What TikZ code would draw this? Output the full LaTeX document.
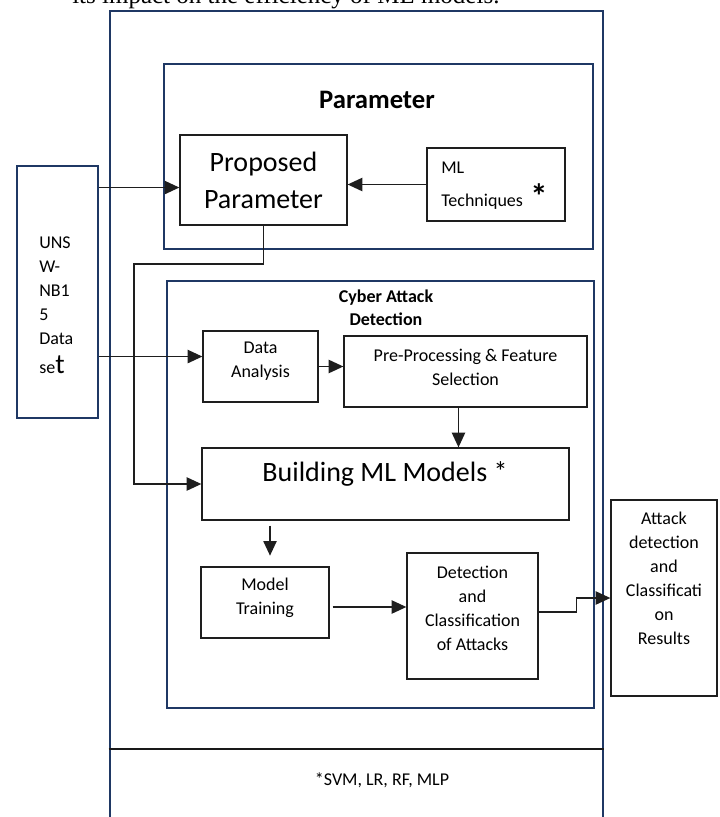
\documentclass[tikz,border=0pt]{standalone}
\usepackage{fontspec}
\setmainfont{Carlito}
\newfontfamily\timesfont{Liberation Serif}
\usetikzlibrary{arrows.meta,fit,calc}
\definecolor{navy}{RGB}{31,56,100}
\definecolor{ink}{RGB}{30,30,30}
\begin{document}
\begin{tikzpicture}[x=0.75pt,y=-0.75pt,
  frame/.style={draw=navy,line width=2.2pt,inner sep=0pt},
  box/.style={draw=ink,line width=1pt,inner sep=0pt},
  txt/.style={font=\fontsize{13.5}{18}\selectfont,align=center,inner sep=0pt},
  bigtxt/.style={font=\fontsize{21}{27.75}\selectfont,align=center,inner sep=0pt},
  arr/.style={draw=ink,line width=1pt,-{Triangle[length=11pt,width=10pt]}},
  link/.style={draw=ink,line width=1pt}]
\clip (0,0) rectangle (720,817);

% running text of the page above the figure
\node[anchor=base west,inner sep=0pt,font=\timesfont\fontsize{18.75}{22}\selectfont] (intro) at (72,4)
  {its impact on the efficiency of ML models.};

% outer frame and footnote band
\node[frame,fit={(110,11) (603,840)}] (outer) {};
\draw[draw=black!90,line width=1.1pt] (outer.west |- 0,749) -- (outer.east |- 0,749);
\node[txt] (footnote) at (382,780) {*SVM, LR, RF, MLP};

% parameter block
\node[frame,fit={(164,64) (593,249)}] (param) {};
\node[font=\bfseries\fontsize{20}{24}\selectfont,inner sep=0pt] (paramtitle) at (377,100) {Parameter};
\node[box,fit={(180,135) (347,225)}] (proposed) {};
\node[bigtxt] (proposedtxt) at (proposed.center) {Proposed\\Parameter};
\node[box,fit={(427,148) (565,221)}] (ml) {};
\node[txt,align=left,anchor=west,font=\fontsize{13.5}{24.75}\selectfont] (mltxt) at (441,185.5) {ML\\Techniques};
\node[font=\bfseries\fontsize{26}{24}\selectfont,inner sep=0pt] (mlstar) at (539,196) {*};

% dataset
\node[frame,fit={(17,166) (98,418)}] (data) {};
\node[txt,align=left,anchor=west] (datatxt) at (39,305)
  {UNS\\W-\\NB1\\5\\Data\\[4pt]se{\fontsize{21}{18}\selectfont t}};

% cyber attack detection block
\node[frame,fit={(167,281) (594,708)}] (cyber) {};
\node[txt,font=\bfseries\fontsize{13.5}{17.25}\selectfont] (cybertitle) at (386,307.5) {Cyber Attack\\Detection};
\node[box,fit={(203,331) (318,402)}] (analysis) {};
\node[txt] (analysistxt) at (260.5,361) {Data\\Analysis};
\node[box,fit={(344,336) (587,407)}] (pre) {};
\node[txt] (pretxt) at (465.5,367) {Pre-Processing \& Feature\\Selection};
\node[box,fit={(202,448) (569,520)}] (building) {};
\node[bigtxt] (buildingtxt) at (385,474) {Building ML Models *};
\node[box,fit={(201,567) (329,638)}] (training) {};
\node[txt] (trainingtxt) at (265,597.5) {Model\\Training};
\node[box,fit={(407,553) (538,679)}] (detect) {};
\node[txt] (detecttxt) at (472.5,608.5) {Detection\\and\\Classification\\of Attacks};

% results
\node[box,fit={(611,500) (717,696)}] (results) {};
\node[txt] (resultstxt) at (664,578.5) {Attack\\detection\\and\\Classificati\\on\\Results};

% connectors
\coordinate (dsA) at ($(data.north east)+(0,23)$);
\draw[arr] (dsA) -- (dsA -| proposed.west);
\draw[arr] (ml.west) -- (ml.west -| proposed.east);
\coordinate (dsB) at ($(data.north east)+(0,192)$);
\draw[arr] (dsB) -- (dsB -| analysis.west);
\draw[arr] (analysis.east) -- (analysis.east -| pre.west);
\coordinate (preout) at ($(pre.south)+(-7,0)$);
\draw[arr] (preout) -- (preout |- building.north);
\coordinate (loop) at (134,264);
\draw[arr] (proposed.south) |- (loop) |- (building.west);
\coordinate (trainin) at ($(training.north)+(5,0)$);
\draw[arr,shorten <=3.75pt,shorten >=8pt] (trainin |- building.south) -- (trainin);
\coordinate (trainout) at ($(training.east)+(3,4.5)$);
\draw[arr] (trainout) -- (trainout -| detect.west);
\coordinate (detout) at ($(detect.east)+(0,-4)$);
\draw[arr] (detout) -- ++(38,0) |- (results.west);
\end{tikzpicture}
\end{document}
